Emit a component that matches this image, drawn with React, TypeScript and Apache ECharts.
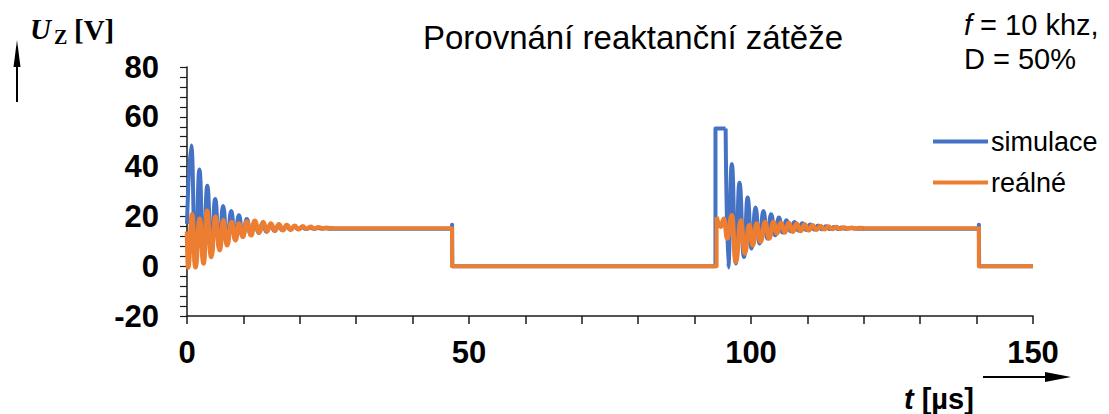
import React, { useEffect, useRef } from "react";
import * as echarts from "echarts";

type P = [number, number];

// axis ranges / ticks
const xRange = [0, 150];
const xStep = 50;
const yRange = [-20, 80];
const yStep = 20;

// simulace (blue) — first switching burst
const simBurst1: P[] = [
  [0, 17], [0.76, 48.5], [1.5, 0], [2.2, 38.8], [2.9, 2], [3.6, 32.3], [4.3, 4.8],
  [5.0, 27], [5.7, 7.5], [6.4, 24.2], [7.1, 9.3], [7.85, 22.2], [8.5, 10.8],
  [9.2, 20.5], [9.9, 11.8], [10.6, 19], [11.3, 12.6], [12.0, 18], [12.7, 13.3],
  [13.4, 17.3], [14.1, 13.8], [14.8, 16.7], [15.5, 14.2], [16.2, 16.3], [16.9, 14.5],
  [17.6, 16], [18.3, 14.7], [19.0, 15.8], [19.7, 14.85], [20.4, 15.6], [21.1, 14.95],
  [21.8, 15.45], [22.5, 15.0], [23.2, 15.3], [23.9, 15.05], [24.6, 15.2], [25.3, 15.0],
  [26, 15.0],
];
const simSteps1: P[] = [
  [26, 15.0], [46.95, 15.0], [47.0, 16.6], [47.05, 0], [93.7, 0], [93.7, 55.3], [95.5, 55.3],
];
const simBurst2: P[] = [
  [95.5, 55.3], [95.95, -0.5], [96.6, 41], [97.3, 1.1], [97.95, 33.5], [98.75, 3.7],
  [99.4, 27.6], [100.1, 7.1], [100.8, 23.6], [101.5, 9.1], [102.2, 22.2], [102.9, 11.1],
  [103.55, 20.9], [104.3, 12.4], [104.95, 19.6], [105.6, 13.5], [106.3, 18.5], [107.0, 14.0],
  [107.7, 17.8], [108.4, 14.3], [109.1, 17.2], [109.8, 14.5], [110.5, 16.7], [111.2, 14.7],
  [111.9, 16.3], [112.6, 14.85], [113.3, 16.0], [114.0, 14.9], [114.7, 15.7], [115.4, 14.95],
  [116.1, 15.5], [116.8, 15.0], [117.5, 15.3], [118.5, 15.0],
];
const simSteps2: P[] = [
  [118.5, 15.0], [140.35, 15.0], [140.4, 16.6], [140.45, 0], [150, 0],
];

// reálné (orange)
const realBurst1: P[] = [
  [0, 14], [0.2, -0.5], [0.9, 20.9], [1.5, -0.4], [2.25, 19.1], [2.95, 1.1], [3.55, 22.3],
  [4.3, 3.7], [5.05, 20], [5.8, 6.4], [6.45, 18.5], [7.1, 8.4], [7.9, 17.8], [8.6, 10.4],
  [9.2, 17.1], [9.9, 11.8], [10.6, 18], [11.4, 12.4], [12.0, 18.3], [12.8, 13.4],
  [13.5, 17.8], [14.2, 14.0], [14.85, 17.1], [15.6, 14.2], [16.3, 16.8], [17.0, 14.4],
  [17.7, 16.5], [18.4, 14.6], [19.1, 16.2], [19.8, 14.8], [20.5, 16.0], [21.2, 15.0],
  [21.9, 15.8], [22.6, 15.1], [23.3, 15.6], [24.0, 15.2], [24.7, 15.45], [25.4, 15.25],
  [26, 15.2],
];
const realSteps1: P[] = [
  [26, 15.2], [47.0, 15.2], [47.0, 0], [93.9, 0], [93.9, 19.8],
];
const realBurst2: P[] = [
  [93.9, 19.8], [94.6, 15.8], [95.2, 19.1], [95.8, 11.1], [96.6, 20.5], [97.3, 1.7],
  [98.2, 18.5], [98.9, 5.1], [99.7, 16.5], [100.3, 8.4], [101.0, 17.1], [101.7, 9.8],
  [102.5, 17.8], [103.2, 11.1], [104.0, 17.8], [104.6, 13.1], [105.3, 17.5], [106.0, 13.5],
  [106.7, 17.4], [107.4, 13.8], [108.1, 17.0], [108.8, 14.1], [109.5, 16.7], [110.2, 14.4],
  [110.9, 16.4], [111.6, 14.6], [112.3, 16.1], [113.0, 14.8], [113.7, 15.9], [114.4, 14.9],
  [115.1, 15.7], [115.8, 15.0], [116.5, 15.5], [117.2, 15.1], [117.9, 15.4], [118.6, 15.15],
  [119.3, 15.3], [120, 15.2],
];
const realSteps2: P[] = [
  [120, 15.2], [140.4, 15.2], [140.4, 0], [150, 0],
];

const seriesNames = ["simulace", "reálné"];
const BLUE = "#4472C4";
const ORANGE = "#ED7D31";
const SANS = "'Liberation Sans', Arial, sans-serif";
const SERIF = "'Liberation Serif', 'Times New Roman', serif";

function line(name: string, data: P[], color: string, width: number, smooth: boolean) {
  return {
    type: "line",
    name,
    data,
    smooth: smooth ? 0.5 : false,
    smoothMonotone: smooth ? "x" : undefined,
    showSymbol: false,
    symbol: "none",
    lineStyle: { color, width, cap: "butt", join: "round" },
    itemStyle: { color },
    clip: false,
  };
}

export default function App() {
  const ref = useRef<HTMLDivElement>(null);
  useEffect(() => {
    document.body.style.margin = "0";
    if (!ref.current) return;
    const chart = echarts.init(ref.current, undefined, { renderer: "svg" });
    const axisCol = "#1a1a1a";
    chart.setOption({
      animation: false,
      grid: { left: 187, right: 76, top: 67, bottom: 98, containLabel: false },
      legend: {
        data: seriesNames,
        orient: "vertical",
        left: 933,
        top: 128,
        icon: "rect",
        itemWidth: 55,
        itemHeight: 4,
        itemGap: 14,
        padding: 0,
        textStyle: { fontSize: 27, color: "#000", fontFamily: SANS, padding: [0, 0, 0, -2] },
      },
      xAxis: {
        type: "value",
        min: xRange[0],
        max: xRange[1],
        interval: xStep,
        axisLine: { onZero: false, lineStyle: { color: axisCol, width: 1.5 } },
        axisTick: { show: true, length: 8, lineStyle: { color: axisCol, width: 1.5 } },
        minorTick: { show: true, splitNumber: 5, length: 8, lineStyle: { color: axisCol, width: 1.5 } },
        splitLine: { show: false },
        axisLabel: { fontSize: 31, fontWeight: "bold", color: "#000", fontFamily: SANS, margin: 21 },
      },
      yAxis: {
        type: "value",
        min: yRange[0],
        max: yRange[1],
        interval: yStep,
        axisLine: { show: true, lineStyle: { color: axisCol, width: 1.5 } },
        axisTick: { show: true, length: 7, lineStyle: { color: axisCol, width: 1.2 } },
        minorTick: { show: true, splitNumber: 5, length: 7, lineStyle: { color: axisCol, width: 1.2 } },
        splitLine: { show: false },
        axisLabel: { fontSize: 31, fontWeight: "bold", color: "#000", fontFamily: SANS, margin: 28 },
      },
      series: [
        line(seriesNames[0], simBurst1, BLUE, 4, true),
        line(seriesNames[0], simSteps1, BLUE, 4, false),
        line(seriesNames[0], simBurst2, BLUE, 4, true),
        line(seriesNames[0], simSteps2, BLUE, 4, false),
        line(seriesNames[1], realBurst1, ORANGE, 4.5, true),
        line(seriesNames[1], realSteps1, ORANGE, 4, false),
        line(seriesNames[1], realBurst2, ORANGE, 4.5, true),
        line(seriesNames[1], realSteps2, ORANGE, 4, false),
      ],
      graphic: [
        {
          type: "text",
          x: 633,
          y: 37,
          style: {
            text: "Porovnání reaktanční zátěže",
            fontSize: 33,
            fontFamily: SANS,
            fill: "#000",
            textAlign: "center",
            textVerticalAlign: "middle",
          },
        },
        {
          type: "text",
          x: 964,
          y: 42,
          style: {
            text: "{i|f} = 10 khz,\nD = 50%",
            fontSize: 29,
            fontFamily: SANS,
            fill: "#000",
            lineHeight: 34,
            textAlign: "left",
            textVerticalAlign: "middle",
            rich: {
              i: { fontStyle: "italic", fontSize: 29, fontFamily: SANS, lineHeight: 34 },
            },
          },
        },
        {
          type: "text",
          x: 30,
          y: 29,
          style: { text: "U", fontSize: 29, fontWeight: "bold", fontStyle: "italic", fontFamily: SERIF, fill: "#000", textVerticalAlign: "middle" },
        },
        {
          type: "text",
          x: 54,
          y: 37,
          style: { text: "Z", fontSize: 20, fontWeight: "bold", fontFamily: SERIF, fill: "#000", textVerticalAlign: "middle" },
        },
        {
          type: "text",
          x: 74,
          y: 30,
          style: { text: "[V]", fontSize: 29, fontWeight: "bold", fontFamily: SERIF, fill: "#000", textVerticalAlign: "middle" },
        },
        {
          type: "line",
          shape: { x1: 17, y1: 102, x2: 17, y2: 62 },
          style: { stroke: "#000", lineWidth: 2 },
        },
        {
          type: "polygon",
          shape: { points: [[17, 40], [13.5, 67], [20.5, 67]] },
          style: { fill: "#000" },
        },
        {
          type: "line",
          shape: { x1: 983, y1: 377, x2: 1050, y2: 377 },
          style: { stroke: "#000", lineWidth: 2 },
        },
        {
          type: "polygon",
          shape: { points: [[1071, 377], [1045, 372], [1045, 382]] },
          style: { fill: "#000" },
        },
        {
          type: "text",
          x: 904,
          y: 399,
          style: {
            text: "{i|t} [µs]",
            fontSize: 29,
            fontWeight: "bold",
            fontFamily: SANS,
            fill: "#000",
            textVerticalAlign: "middle",
            rich: {
              i: { fontStyle: "italic", fontWeight: "bold", fontSize: 29, fontFamily: SANS },
            },
          },
        },
      ],
    });
    return () => chart.dispose();
  }, []);
  return (
    <div
      ref={ref}
      style={{ position: "absolute", left: 0, top: 0, width: 1109, height: 414, background: "#fff" }}
    />
  );
}
